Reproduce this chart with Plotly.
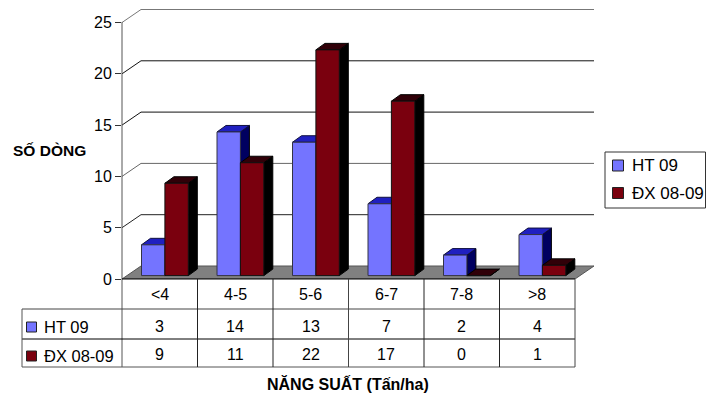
import plotly.graph_objects as go

categories = ["<4", "4-5", "5-6", "6-7", "7-8", ">8"]
series_names = ["HT 09", "ĐX 08-09"]
ht_09 = [3, 14, 13, 7, 2, 4]
dx_08_09 = [9, 11, 22, 17, 0, 1]
y_ticks = [0, 5, 10, 15, 20, 25]
grid_colors = ["#808080", "#222222", "#666666", "#111111", "#111111", "#777777"]
y_title = "SỐ DÒNG"
x_title = "NĂNG SUẤT (Tấn/ha)"

W, H = 706, 397
X0, Y0 = 122, 279          # pixel of the axis origin
CAT_PX, UNIT_PX = 75.5, 10.26
WALL_DX, WALL_DY = 19, 13  # chart depth in pixels
BAR_DX, BAR_DY = 9, 6.5    # bar depth in pixels
BAR_W = 23.4 / CAT_PX
BAR_START = 19.5 / CAT_PX
BASE = 3.4 / UNIT_PX
RIGHT, TOP = 594, 9
FONT = "Liberation Sans"
BLUE = ("#7474FF", "#2020C0", "#000060")
RED = ("#7A000E", "#300008", "#000000")
BORDER = "#222222"


def ux(px):
    return px / CAT_PX


def uy(px):
    return px / UNIT_PX


def fx(px):
    return px / W


def fy(px):
    return 1 - px / H


fig = go.Figure()


def poly(polys, fill, line=BORDER, width=1):
    xs, ys = [], []
    for p in polys:
        xs += [a for a, _ in p] + [p[0][0], None]
        ys += [b for _, b in p] + [p[0][1], None]
    fig.add_trace(go.Scatter(x=xs, y=ys, mode="lines", fill="toself", fillcolor=fill,
                             line=dict(color=line, width=width), cliponaxis=False,
                             hoverinfo="skip", showlegend=False))


# gridlines on side and back wall
for v, c in zip(y_ticks, grid_colors):
    if v == 0:
        continue
    fig.add_trace(go.Scatter(
        x=[0, ux(WALL_DX), ux(RIGHT - X0)],
        y=[v, v + uy(WALL_DY), v + uy(WALL_DY)],
        mode="lines", line=dict(color=c, width=1), cliponaxis=False,
        hoverinfo="skip", showlegend=False))

# floor
n = len(categories)
poly([[(0, 0), (ux(WALL_DX), uy(WALL_DY)), (ux(RIGHT - X0), uy(WALL_DY)), (n, 0)]],
     "#808080", line="#555555")

# bars, back to front
ddx, ddy = ux(BAR_DX), uy(BAR_DY)
for s, (vals, cols) in enumerate(zip([ht_09, dx_08_09], [BLUE, RED])):
    fronts, tops, sides = [], [], []
    for i, v in enumerate(vals):
        l = i + BAR_START + s * BAR_W
        r = l + BAR_W
        t = BASE + v
        fronts.append([(l, BASE), (r, BASE), (r, t), (l, t)])
        tops.append([(l, t), (r, t), (r + ddx, t + ddy), (l + ddx, t + ddy)])
        sides.append([(r, BASE), (r + ddx, BASE + ddy), (r + ddx, t + ddy), (r, t)])
    poly(sides, cols[2], line="#000000")
    poly(tops, cols[1], line="#000000" if s else "#101040")
    poly(fronts, cols[0], line="#111111" if s else "#333344")

shapes = []


def hline(x1, x2, y, color="#111111"):
    shapes.append(dict(type="line", xref="paper", yref="paper", x0=fx(x1), x1=fx(x2),
                       y0=fy(y), y1=fy(y), line=dict(color=color, width=1)))


def vline(x, y1, y2, color="#111111"):
    shapes.append(dict(type="line", xref="paper", yref="paper", x0=fx(x), x1=fx(x),
                       y0=fy(y1), y1=fy(y2), line=dict(color=color, width=1)))


R1, R2, R3 = 309, 339, 367
LEFT = 22
right_edge = X0 + n * CAT_PX
vline(X0, 22, R3, "#555555")
hline(X0, right_edge, Y0, "#000000")
hline(LEFT, right_edge, R1, "#444444")
hline(LEFT, right_edge, R2, "#000000")
hline(LEFT, right_edge, R3, "#555555")
vline(LEFT, R1, R3, "#555555")
for i in range(1, n + 1):
    vline(X0 + i * CAT_PX, Y0, R3, "#222222" if i % 3 else "#444444")

annotations = []


def label(text, x, y, size=16, bold=False, anchor="center"):
    annotations.append(dict(text=f"<b>{text}</b>" if bold else text, xref="paper", yref="paper",
                            x=fx(x), y=fy(y), xanchor=anchor, yanchor="middle", showarrow=False,
                            font=dict(family=FONT, size=size, color="#000000")))


for i, c in enumerate(categories):
    cx = X0 + (i + 0.5) * CAT_PX
    label(c, cx, 294)
    label(str(ht_09[i]), cx, 326)
    label(str(dx_08_09[i]), cx, 354)

# table row headers
swatch_cols = [BLUE[0], RED[0]]
for name, col, y in zip(series_names, swatch_cols, [327, 356]):
    shapes.append(dict(type="rect", xref="paper", yref="paper", x0=fx(26.5), x1=fx(36.5),
                       y0=fy(y - 5), y1=fy(y + 5), fillcolor=col, line=dict(color="#222222", width=1)))
    label(name, 41.5, y, 16.5, anchor="left")

# legend
shapes.append(dict(type="rect", xref="paper", yref="paper", x0=fx(605), x1=fx(705.5),
                   y0=fy(152), y1=fy(208), line=dict(color="#333333", width=1)))
for name, col, y in zip(series_names, swatch_cols, [165.5, 193]):
    shapes.append(dict(type="rect", xref="paper", yref="paper", x0=fx(612.5), x1=fx(623.5),
                       y0=fy(y - 5.5), y1=fy(y + 5.5), fillcolor=col, line=dict(color="#222222", width=1)))
    label(name, 629.5, y, 17, anchor="left")

label(y_title, 49, 150, 15.5, bold=True)
label(x_title, 348, 384, 16, bold=True)

fig.update_layout(
    width=W, height=H, margin=dict(l=0, r=0, t=0, b=0, autoexpand=False), autosize=False,
    paper_bgcolor="#FFFFFF", plot_bgcolor="rgba(0,0,0,0)", showlegend=False,
    hovermode=False, shapes=shapes, annotations=annotations,
    xaxis=dict(domain=[fx(X0), fx(RIGHT)], range=[0, ux(RIGHT - X0)], visible=False, fixedrange=True),
    yaxis=dict(domain=[fy(Y0), fy(TOP)], range=[0, uy(Y0 - TOP)], tickmode="array",
               tickvals=y_ticks, ticks="outside", ticklen=6, tickcolor="#333333", tickwidth=1,
               showgrid=False, zeroline=False, showline=False, fixedrange=True,
               tickfont=dict(family=FONT, size=16, color="#000000")),
)

fig.write_html("out.html", config=dict(displayModeBar=False),
               post_script="document.body.style.margin='0';document.documentElement.style.overflow='hidden';")
